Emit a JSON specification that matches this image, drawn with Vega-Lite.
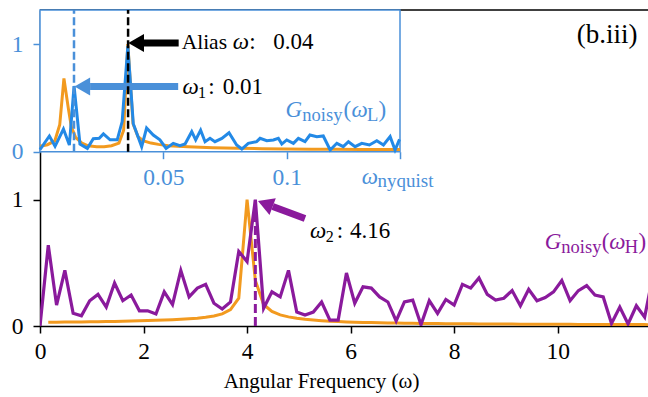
{
 "$schema": "https://vega.github.io/schema/vega-lite/v6.json",
 "width": 608, "height": 316,
 "autosize": {"type": "none"},
 "padding": {"left": 40, "top": 10, "right": 0, "bottom": 71},
 "background": "white",
 "config": {
  "font": "Liberation Serif",
  "view": {"stroke": null},
  "axis": {"grid": false, "labelFont": "Liberation Serif", "titleFont": "Liberation Serif", "labelFontSize": 23.5, "titleFontSize": 21, "titleFontWeight": "normal", "tickSize": 7, "tickWidth": 1.5, "domainWidth": 1.5, "domainColor": "black", "tickColor": "black", "labelColor": "black", "titleColor": "black", "labelFlush": false, "labelOverlap": false}
 },
 "data": {"values": [{}]},
 "datasets": {
  "hi": [
   {"w":0,"G":0.0,"F":null},{"w":0.16,"G":0.64,"F":0.030},{"w":0.32,"G":0.165,"F":0.030},{"w":0.48,"G":0.44,"F":0.031},{"w":0.64,"G":0.10,"F":0.031},{"w":0.80,"G":0.08,"F":0.032},{"w":0.96,"G":0.20,"F":0.033},{"w":1.12,"G":0.25,"F":0.034},{"w":1.28,"G":0.15,"F":0.035},{"w":1.44,"G":0.34,"F":0.036},{"w":1.60,"G":0.20,"F":0.037},{"w":1.76,"G":0.245,"F":0.039},{"w":1.92,"G":0.12,"F":0.041},{"w":2.08,"G":0.12,"F":0.043},{"w":2.24,"G":0.095,"F":0.045},{"w":2.40,"G":0.27,"F":0.047},{"w":2.56,"G":0.17,"F":0.050},{"w":2.72,"G":0.44,"F":0.053},{"w":2.88,"G":0.23,"F":0.057},{"w":3.04,"G":0.30,"F":0.062},{"w":3.20,"G":0.33,"F":0.069},{"w":3.36,"G":0.18,"F":0.079},{"w":3.52,"G":0.134,"F":0.096},{"w":3.68,"G":0.19,"F":0.13},{"w":3.84,"G":0.59,"F":0.22},{"w":4.00,"G":0.51,"F":1.0},{"w":4.16,"G":1.0,"F":0.36},{"w":4.32,"G":0.14,"F":0.17},{"w":4.48,"G":0.27,"F":0.115},{"w":4.64,"G":0.23,"F":0.088},{"w":4.80,"G":0.44,"F":0.072},{"w":4.96,"G":0.11,"F":0.061},{"w":5.12,"G":0.087,"F":0.053},{"w":5.28,"G":0.11,"F":0.047},{"w":5.44,"G":0.19,"F":0.042},{"w":5.60,"G":0.047,"F":0.038},{"w":5.76,"G":0.047,"F":0.035},{"w":5.92,"G":0.42,"F":0.032},{"w":6.08,"G":0.18,"F":0.030},{"w":6.24,"G":0.31,"F":0.028},{"w":6.40,"G":0.30,"F":0.027},{"w":6.56,"G":0.23,"F":0.025},{"w":6.72,"G":0.19,"F":0.024},{"w":6.88,"G":0.04,"F":0.023},{"w":7.04,"G":0.19,"F":0.022},{"w":7.20,"G":0.205,"F":0.021},{"w":7.36,"G":0.01,"F":0.020},{"w":7.52,"G":0.20,"F":0.020},{"w":7.68,"G":0.10,"F":0.019},{"w":7.84,"G":0.21,"F":0.018},{"w":8.00,"G":0.165,"F":0.018},{"w":8.16,"G":0.33,"F":0.017},{"w":8.32,"G":0.30,"F":0.017},{"w":8.48,"G":0.38,"F":0.016},{"w":8.64,"G":0.25,"F":0.016},{"w":8.80,"G":0.205,"F":0.015},{"w":8.96,"G":0.22,"F":0.015},{"w":9.12,"G":0.28,"F":0.015},{"w":9.28,"G":0.16,"F":0.014},{"w":9.44,"G":0.29,"F":0.014},{"w":9.60,"G":0.20,"F":0.014},{"w":9.76,"G":0.225,"F":0.013},{"w":9.92,"G":0.27,"F":0.013},{"w":10.08,"G":0.36,"F":0.013},{"w":10.24,"G":0.20,"F":0.013},{"w":10.40,"G":0.28,"F":0.012},{"w":10.56,"G":0.32,"F":0.012},{"w":10.72,"G":0.245,"F":0.012},{"w":10.88,"G":0.23,"F":0.012},{"w":11.04,"G":0.02,"F":0.011},{"w":11.20,"G":0.15,"F":0.011},{"w":11.36,"G":0.016,"F":0.011},{"w":11.52,"G":0.16,"F":0.011},{"w":11.68,"G":0.07,"F":0.011},{"w":11.84,"G":0.40,"F":0.010},{"w":12.00,"G":0.25,"F":0.010}
  ],
  "lo_noisy": [
   {"w":0,"G":0.02},{"w":0.0038,"G":0.146},{"w":0.0061,"G":0.05},{"w":0.0095,"G":0.21},{"w":0.0119,"G":0.062},{"w":0.0138,"G":0.61},{"w":0.0162,"G":0.071},{"w":0.0192,"G":0.031},{"w":0.0216,"G":0.12},{"w":0.024,"G":0.125},{"w":0.0257,"G":0.165},{"w":0.0284,"G":0.11},{"w":0.0313,"G":0.11},{"w":0.0333,"G":0.28},{"w":0.0356,"G":0.98},{"w":0.0378,"G":0.26},{"w":0.0412,"G":0.047},{"w":0.0432,"G":0.22},{"w":0.0459,"G":0.155},{"w":0.0486,"G":0.11},{"w":0.0511,"G":0.031},{"w":0.054,"G":0.078},{"w":0.0567,"G":0.056},{"w":0.0588,"G":0.071},{"w":0.0615,"G":0.186},{"w":0.0631,"G":0.109},{"w":0.0651,"G":0.2},{"w":0.0669,"G":0.093},{"w":0.0689,"G":0.124},{"w":0.0709,"G":0.093},{"w":0.0737,"G":0.124},{"w":0.0766,"G":0.176},{"w":0.0797,"G":0.062},{"w":0.0818,"G":0.025},{"w":0.0844,"G":0.078},{"w":0.0878,"G":0.093},{"w":0.0892,"G":0.124},{"w":0.0919,"G":0.102},{"w":0.0946,"G":0.109},{"w":0.0966,"G":0.124},{"w":0.098,"G":0.071},{"w":0.1,"G":0.109},{"w":0.1027,"G":0.078},{"w":0.1047,"G":0.124},{"w":0.1074,"G":0.093},{"w":0.1094,"G":0.155},{"w":0.1122,"G":0.139},{"w":0.1148,"G":0.146},{"w":0.1176,"G":0.016},{"w":0.1203,"G":0.078},{"w":0.1229,"G":0.047},{"w":0.125,"G":0.093},{"w":0.1277,"G":0.047},{"w":0.1304,"G":0.078},{"w":0.1335,"G":0.062},{"w":0.1365,"G":0.102},{"w":0.1392,"G":0.062},{"w":0.1419,"G":0.14},{"w":0.1439,"G":0.016},{"w":0.1457,"G":0.115}
  ],
  "lo_clean": [
   {"w":0,"F":0.05},{"w":0.003,"F":0.065},{"w":0.006,"F":0.1},{"w":0.008,"F":0.25},{"w":0.0097,"F":0.68},{"w":0.0115,"F":0.4},{"w":0.0127,"F":0.23},{"w":0.0145,"F":0.13},{"w":0.017,"F":0.08},{"w":0.0195,"F":0.055},{"w":0.023,"F":0.045},{"w":0.026,"F":0.047},{"w":0.029,"F":0.055},{"w":0.032,"F":0.08},{"w":0.0339,"F":0.2},{"w":0.0356,"F":1.0},{"w":0.0377,"F":0.26},{"w":0.0397,"F":0.14},{"w":0.042,"F":0.1},{"w":0.045,"F":0.08},{"w":0.048,"F":0.068},{"w":0.052,"F":0.055},{"w":0.06,"F":0.045},{"w":0.07,"F":0.037},{"w":0.08,"F":0.032},{"w":0.09,"F":0.028},{"w":0.1,"F":0.025},{"w":0.11,"F":0.023},{"w":0.12,"F":0.022},{"w":0.13,"F":0.021},{"w":0.1459,"F":0.02}
  ]
 },
 "layer": [
  {
   "layer": [
    {"data": {"name": "hi"},
     "mark": {"type": "line", "color": "#f29a1f", "strokeWidth": 3, "clip": true},
     "encoding": {
      "x": {"field": "w", "type": "quantitative", "scale": {"domain": [0, 11.745], "nice": false, "zero": false},
            "axis": {"orient": "bottom", "values": [0,2,4,6,8,10], "format": "d", "title": "Angular Frequency (ω)", "labelBaseline": "alphabetic", "labelPadding": 25, "titleX": 281, "titleY": 61, "titleBaseline": "alphabetic", "titleAlign": "center", "titleAnchor": null}},
      "y": {"field": "F", "type": "quantitative", "scale": {"domain": [0, 2.5], "nice": false},
            "axis": {"orient": "left", "values": [0,1], "format": "d", "title": null, "labelPadding": 10, "labelBaseline": "middle"}}
     }},
    {"data": {"name": "hi"},
     "mark": {"type": "line", "color": "#8a1a9c", "strokeWidth": 3.2, "clip": true},
     "encoding": {"x": {"field": "w", "type": "quantitative"}, "y": {"field": "G", "type": "quantitative"}}},
    {"mark": {"type": "rule", "color": "#8a1a9c", "strokeWidth": 3, "strokeDash": [9, 4]},
     "encoding": {"x": {"datum": 4.16}, "y": {"datum": 0}, "y2": {"datum": 1.0}}},
    {"mark": {"type": "rule", "color": "#8a1a9c", "strokeWidth": 7, "strokeCap": "butt"},
     "encoding": {"x": {"datum": 4.495}, "y": {"datum": 0.946}, "x2": {"datum": 5.119}, "y2": {"datum": 0.851}}},
    {"mark": {"type": "point", "shape": "M0,0L2,-1.15L2,1.15Z", "filled": true, "opacity": 1, "color": "#8a1a9c", "size": 245, "angle": 20.4, "strokeWidth": 0},
     "encoding": {"x": {"datum": 4.211}, "y": {"datum": 0.988}}},
    {"mark": {"type": "text", "text": "ω", "fontStyle": "italic", "fontSize": 23, "align": "left", "baseline": "alphabetic", "color": "black"},
     "encoding": {"x": {"datum": 5.217}, "y": {"datum": 0.694}}},
    {"mark": {"type": "text", "text": "2", "fontSize": 16, "align": "left", "baseline": "alphabetic", "color": "black"},
     "encoding": {"x": {"datum": 5.52}, "y": {"datum": 0.665}}},
    {"mark": {"type": "text", "text": ":", "fontSize": 23, "align": "left", "baseline": "alphabetic", "color": "black"},
     "encoding": {"x": {"datum": 5.733}, "y": {"datum": 0.694}}},
    {"mark": {"type": "text", "text": "4.16", "fontSize": 23, "align": "left", "baseline": "alphabetic", "color": "black"},
     "encoding": {"x": {"datum": 5.99}, "y": {"datum": 0.694}}},
    {"mark": {"type": "text", "text": "G", "fontStyle": "italic", "fontSize": 23, "align": "left", "baseline": "alphabetic", "color": "#8a1a9c"},
     "encoding": {"x": {"datum": 9.75}, "y": {"datum": 0.607}}},
    {"mark": {"type": "text", "text": "noisy", "fontSize": 18.5, "align": "left", "baseline": "alphabetic", "color": "#8a1a9c"},
     "encoding": {"x": {"datum": 10.07}, "y": {"datum": 0.575}}},
    {"mark": {"type": "text", "text": "(", "fontSize": 23, "align": "left", "baseline": "alphabetic", "color": "#8a1a9c"},
     "encoding": {"x": {"datum": 10.85}, "y": {"datum": 0.607}}},
    {"mark": {"type": "text", "text": "ω", "fontStyle": "italic", "fontSize": 23, "align": "left", "baseline": "alphabetic", "color": "#8a1a9c"},
     "encoding": {"x": {"datum": 10.995}, "y": {"datum": 0.607}}},
    {"mark": {"type": "text", "text": "H", "fontSize": 18.5, "align": "left", "baseline": "alphabetic", "color": "#8a1a9c"},
     "encoding": {"x": {"datum": 11.295}, "y": {"datum": 0.575}}},
    {"mark": {"type": "text", "text": ")", "fontSize": 23, "align": "left", "baseline": "alphabetic", "color": "#8a1a9c"},
     "encoding": {"x": {"datum": 11.56}, "y": {"datum": 0.607}}},
    {"mark": {"type": "text", "text": "(b.iii)", "fontSize": 27, "align": "left", "baseline": "alphabetic", "color": "black"},
     "encoding": {"x": {"datum": 10.371}, "y": {"datum": 2.24}}},
    {"mark": {"type": "rule", "color": "black", "strokeWidth": 1.5},
     "encoding": {"x": {"datum": 0}, "x2": {"datum": 11.745}, "y": {"datum": 2.5}}}
   ]
  },
  {
   "layer": [
    {"mark": {"type": "rect", "fill": "white", "stroke": "#4a90d9", "strokeWidth": 1.5},
     "encoding": {
      "x": {"datum": 0, "type": "quantitative", "scale": {"domain": [0, 0.1459], "range": [0, 360], "nice": false, "zero": false},
            "axis": {"orient": "bottom", "offset": -174.3, "values": [0.05, 0.1, 0.1459], "format": "~g", "labelExpr": "datum.value > 0.12 ? '' : datum.label", "domain": false, "tickColor": "#4a90d9", "labelColor": "#4a90d9", "title": null, "labelBaseline": "alphabetic", "labelPadding": 25.6}},
      "x2": {"datum": 0.1459},
      "y": {"datum": 0, "type": "quantitative", "scale": {"domain": [0, 1.316], "range": [141.7, 0], "nice": false, "zero": false},
            "axis": {"orient": "left", "values": [0, 1], "format": "d", "domain": false, "tickColor": "#4a90d9", "labelColor": "#4a90d9", "title": null, "labelPadding": 10, "labelBaseline": "middle"}},
      "y2": {"datum": 1.316}
     }},
    {"data": {"name": "lo_clean"},
     "mark": {"type": "line", "color": "#f29a1f", "strokeWidth": 3},
     "encoding": {"x": {"field": "w", "type": "quantitative"}, "y": {"field": "F", "type": "quantitative"}}},
    {"data": {"name": "lo_noisy"},
     "mark": {"type": "line", "color": "#2389e6", "strokeWidth": 3},
     "encoding": {"x": {"field": "w", "type": "quantitative"}, "y": {"field": "G", "type": "quantitative"}}},
    {"mark": {"type": "rule", "color": "#4a90d9", "strokeWidth": 2.5, "strokeDash": [8, 3.5]},
     "encoding": {"x": {"datum": 0.01378}, "y": {"datum": 0}, "y2": {"datum": 1.316}}},
    {"mark": {"type": "rule", "color": "#4a90d9", "strokeWidth": 7, "strokeCap": "butt"},
     "encoding": {"x": {"datum": 0.0203}, "x2": {"datum": 0.0560}, "y": {"datum": 0.605}}},
    {"mark": {"type": "point", "shape": "M0,0L2,-1.15L2,1.15Z", "filled": true, "opacity": 1, "color": "#4a90d9", "size": 245, "strokeWidth": 0},
     "encoding": {"x": {"datum": 0.01398}, "y": {"datum": 0.605}}},
    {"mark": {"type": "rule", "color": "black", "strokeWidth": 2.5, "strokeDash": [8, 3.5]},
     "encoding": {"x": {"datum": 0.0357}, "y": {"datum": 0}, "y2": {"datum": 1.316}}},
    {"mark": {"type": "rule", "color": "black", "strokeWidth": 7, "strokeCap": "butt"},
     "encoding": {"x": {"datum": 0.0420}, "x2": {"datum": 0.0562}, "y": {"datum": 1.01}}},
    {"mark": {"type": "point", "shape": "M0,0L2,-1.15L2,1.15Z", "filled": true, "opacity": 1, "color": "black", "size": 245, "strokeWidth": 0},
     "encoding": {"x": {"datum": 0.0358}, "y": {"datum": 1.01}}},
    {"mark": {"type": "text", "text": "Alias", "fontSize": 21.5, "align": "left", "baseline": "alphabetic", "color": "black"},
     "encoding": {"x": {"datum": 0.0574}, "y": {"datum": 0.951}}},
    {"mark": {"type": "text", "text": "ω", "fontStyle": "italic", "fontSize": 23, "align": "left", "baseline": "alphabetic", "color": "black"},
     "encoding": {"x": {"datum": 0.0781}, "y": {"datum": 0.951}}},
    {"mark": {"type": "text", "text": ":", "fontSize": 23, "align": "left", "baseline": "alphabetic", "color": "black"},
     "encoding": {"x": {"datum": 0.0848}, "y": {"datum": 0.951}}},
    {"mark": {"type": "text", "text": "0.04", "fontSize": 23, "align": "left", "baseline": "alphabetic", "color": "black"},
     "encoding": {"x": {"datum": 0.09455}, "y": {"datum": 0.951}}},
    {"mark": {"type": "text", "text": "ω", "fontStyle": "italic", "fontSize": 23, "align": "left", "baseline": "alphabetic", "color": "black"},
     "encoding": {"x": {"datum": 0.0578}, "y": {"datum": 0.533}}},
    {"mark": {"type": "text", "text": "1", "fontSize": 16, "align": "left", "baseline": "alphabetic", "color": "black"},
     "encoding": {"x": {"datum": 0.0640}, "y": {"datum": 0.499}}},
    {"mark": {"type": "text", "text": ":", "fontSize": 23, "align": "left", "baseline": "alphabetic", "color": "black"},
     "encoding": {"x": {"datum": 0.06821}, "y": {"datum": 0.533}}},
    {"mark": {"type": "text", "text": "0.01", "fontSize": 23, "align": "left", "baseline": "alphabetic", "color": "black"},
     "encoding": {"x": {"datum": 0.07404}, "y": {"datum": 0.533}}},
    {"mark": {"type": "text", "text": "G", "fontStyle": "italic", "fontSize": 23, "align": "left", "baseline": "alphabetic", "color": "#4a90d9"},
     "encoding": {"x": {"datum": 0.0995}, "y": {"datum": 0.319}}},
    {"mark": {"type": "text", "text": "noisy", "fontSize": 18.5, "align": "left", "baseline": "alphabetic", "color": "#4a90d9"},
     "encoding": {"x": {"datum": 0.1063}, "y": {"datum": 0.288}}},
    {"mark": {"type": "text", "text": "(", "fontSize": 23, "align": "left", "baseline": "alphabetic", "color": "#4a90d9"},
     "encoding": {"x": {"datum": 0.1230}, "y": {"datum": 0.319}}},
    {"mark": {"type": "text", "text": "ω", "fontStyle": "italic", "fontSize": 23, "align": "left", "baseline": "alphabetic", "color": "#4a90d9"},
     "encoding": {"x": {"datum": 0.1262}, "y": {"datum": 0.319}}},
    {"mark": {"type": "text", "text": "L", "fontSize": 18.5, "align": "left", "baseline": "alphabetic", "color": "#4a90d9"},
     "encoding": {"x": {"datum": 0.1325}, "y": {"datum": 0.288}}},
    {"mark": {"type": "text", "text": ")", "fontSize": 23, "align": "left", "baseline": "alphabetic", "color": "#4a90d9"},
     "encoding": {"x": {"datum": 0.1372}, "y": {"datum": 0.319}}},
    {"mark": {"type": "text", "text": "ω", "fontStyle": "italic", "fontSize": 23, "align": "left", "baseline": "alphabetic", "color": "#4a90d9"},
     "encoding": {"x": {"datum": 0.1304}, "y": {"datum": -0.30}}},
    {"mark": {"type": "text", "text": "nyquist", "fontSize": 19, "align": "left", "baseline": "alphabetic", "color": "#4a90d9"},
     "encoding": {"x": {"datum": 0.1368}, "y": {"datum": -0.33}}}
   ]
  }
 ],
 "resolve": {"scale": {"x": "independent", "y": "independent"}, "axis": {"x": "independent", "y": "independent"}}
}
